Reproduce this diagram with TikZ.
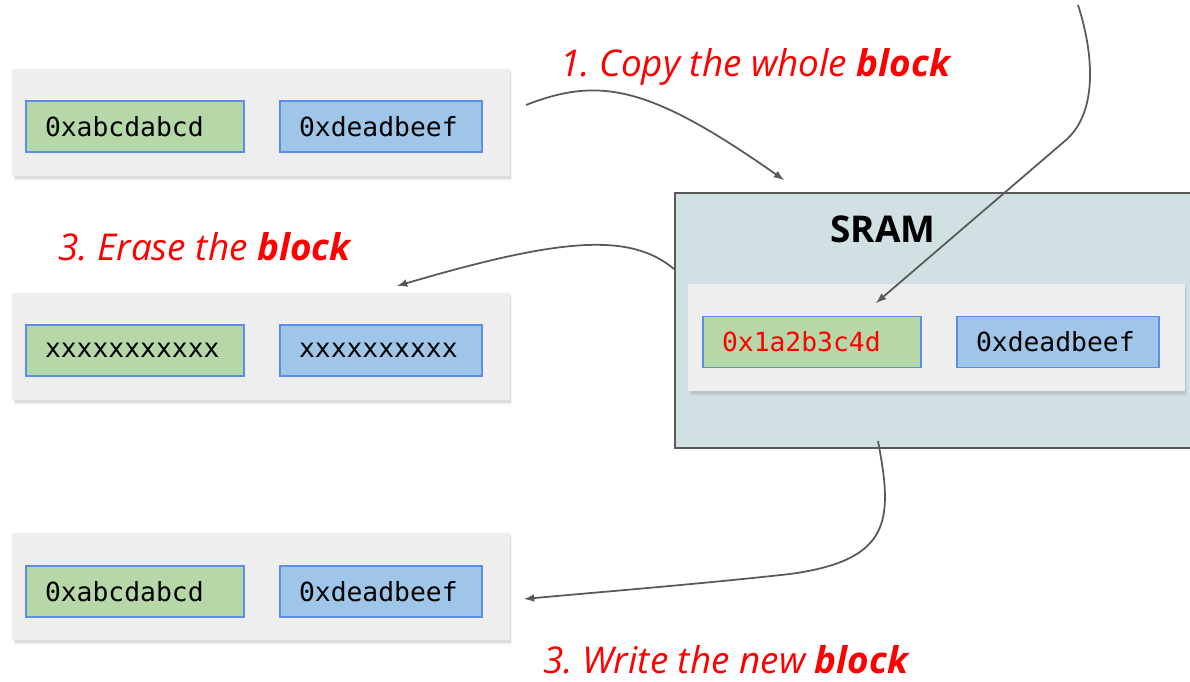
\documentclass[tikz,border=0pt]{standalone}
\usepackage{fontspec}
\setmainfont{Open Sans}
\newfontfamily\codefont{DejaVu Sans Mono}
\usetikzlibrary{shadows}
\frenchspacing

\definecolor{panelgray}{HTML}{EEEEEE}
\definecolor{cellline}{HTML}{5B8FE6}
\definecolor{cellgreen}{HTML}{B6D7A8}
\definecolor{cellsky}{HTML}{9FC5E8}
\definecolor{sramfill}{HTML}{D0E0E3}
\definecolor{linegray}{HTML}{595959}

\tikzset{
  panel/.style={fill=panelgray, minimum width=9.96cm, minimum height=2.16cm,
    drop shadow={shadow xshift=0.05cm, shadow yshift=-0.09cm, opacity=0.08},
    drop shadow={shadow xshift=0.03cm, shadow yshift=-0.05cm, opacity=0.2}},
  cell/.style={draw=cellline, line width=1pt, minimum height=1.02cm,
    inner xsep=0.38cm, align=left, font=\codefont\fontsize{15}{18}\selectfont},
  greencell/.style={cell, fill=cellgreen, text width=3.6cm},
  bluecell/.style={cell, fill=cellsky, text width=3.28cm},
  steplabel/.style={text=red, anchor=base west, inner sep=0,
    font=\itshape\fontsize{21}{25}\selectfont},
  flow/.style={-latex, draw=linegray, line width=1pt}
}

\begin{document}
\begin{tikzpicture}[x=0.02cm,y=-0.02cm]
  \useasboundingbox (0,0) rectangle (1190,682);

  % flash blocks on the left
  \node[panel] (src) at (261,122.5) {};
  \node[greencell] (src-a) at (135,126.5) {0xabcdabcd};
  \node[bluecell] (src-b) at (381,126.5) {0xdeadbeef};

  \node[panel] (erased) at (261,346.5) {};
  \node[greencell] (erased-a) at (135,350.5) {xxxxxxxxxxx};
  \node[bluecell] (erased-b) at (381,350.5) {xxxxxxxxxx};

  \node[panel] (dst) at (261,586.5) {};
  \node[greencell] (dst-a) at (135,591.5) {0xabcdabcd};
  \node[bluecell] (dst-b) at (381,591.5) {0xdeadbeef};

  % the SRAM buffer
  \node[draw=linegray, line width=1.2pt, fill=sramfill, minimum width=10.6cm,
    minimum height=5.1cm] (sram) at (940,320.5) {};
  \node[font=\bfseries\fontsize{21}{25}\selectfont, anchor=base, inner sep=0]
    (sram-title) at (883,243) {SRAM};
  \node[panel, minimum width=9.94cm] (buf) at (936.5,337.5) {};
  \node[greencell, text=red] (buf-a) at (812,342) {0x1a2b3c4d};
  \node[bluecell] (buf-b) at (1058,342) {0xdeadbeef};

  % steps
  \node[steplabel] (copy) at (560,77) {1. Copy the whole \textbf{block}};
  \node[steplabel] (erase) at (58,260) {3. Erase the \textbf{block}};
  \node[steplabel] (write) at (543,673) {3. Write the new \textbf{block}};

  \coordinate (copy-from) at (526,105);
  \coordinate (copy-to) at (784,180);
  \coordinate (new-from) at (1078,5);
  \coordinate (new-bend) at (1066,140);
  \coordinate (new-to) at (876,303);
  \coordinate (erase-from) at (674,269);
  \coordinate (erase-to) at (397,286);
  \coordinate (write-from) at (878,441);
  \coordinate (write-bend) at (790,574);
  \coordinate (write-to) at (524,599);

  \draw[flow] (copy-from) .. controls (600,76) and (650,86) .. (copy-to);
  \draw[flow] (new-from) .. controls (1092,48) and (1100,110) .. (new-bend) -- (new-to);
  \draw[flow] (erase-from) .. controls (630,232) and (560,238) .. (erase-to);
  \draw[flow] (write-from) .. controls (893,520) and (892,560) .. (write-bend)
    .. controls (700,584) and (600,592) .. (write-to);

\end{tikzpicture}
\end{document}
